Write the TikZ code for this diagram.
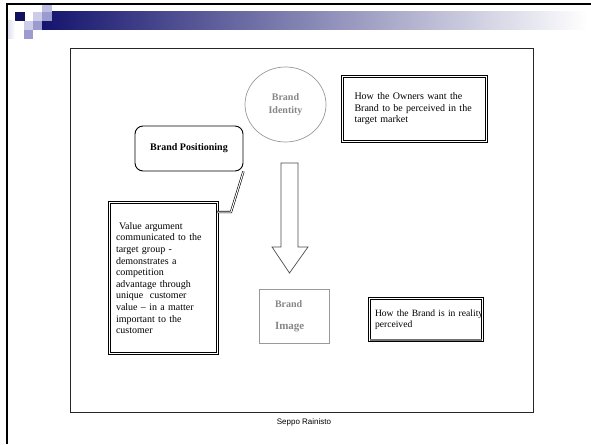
\documentclass[tikz,border=0pt]{standalone}
\usepackage{fontspec}
\setmainfont{Liberation Serif}
\newfontfamily\footfont{Liberation Sans}
\usetikzlibrary{positioning,shapes.geometric}
\definecolor{navy}{RGB}{20,20,110}
\definecolor{lilac}{RGB}{204,204,232}
\definecolor{violet}{RGB}{155,155,208}
\definecolor{greytext}{RGB}{135,135,135}
\begin{document}
\begin{tikzpicture}[x=1pt,y=-1pt,
                font=\fontsize{10}{11.6}\selectfont,
                tbox/.style={inner sep=0pt},
                dline/.style={double, line width=0.9pt, double distance=1.1pt},
                softbox/.style={draw=black!60, line width=0.8pt, inner sep=0pt},
                callout/.style={double, line width=0.6pt, double distance=1pt},
                flowarrow/.style={draw=black!70, line width=0.7pt, fill=white}]
                \useasboundingbox (0,0) rectangle (591,444);
                \fill[white] (0,0) rectangle (591,444);
                \shade[left color=navy, right color=white] (42,12) rectangle (588,30);
                \fill[white] (42,12) rectangle (52,21);
                \fill[navy!85!black] (15,12) rectangle (25,21);
                \fill[lilac] (33,12) rectangle (42,21);
                \fill[violet] (42,12) rectangle (52,21);
                \fill[lilac!70!violet] (42,5) rectangle (52,12);
                \fill[lilac] (24,21) rectangle (33,30);
                \fill[violet] (33,21) rectangle (42,30);
                \fill[violet] (24,30) rectangle (33,39);
                \shade[left color=lilac!60, right color=white] (8,21) rectangle (15,39);
                \draw[line width=2pt] (7,444) -- (7,4) -- (591,4);
                \draw[black!85, line width=0.8pt] (70,48) rectangle (533,412);
                \node (BI) [ellipse, draw=black!40, line width=0.7pt, minimum width=81pt, minimum height=75pt,
                    align=center, text=greytext, font=\fontsize{10}{13}\selectfont\bfseries] at (285.5,104.5) {Brand\\Identity};
                \node (OW) [tbox, minimum width=143pt, minimum height=64pt, text width=120pt, align=left] at (414.5,109)
                    {How the Owners want the\\Brand to be perceived in the\\target market\\[3pt]};
                \node (BP) [draw, rounded corners=8pt, line width=0.9pt, minimum width=108pt, minimum height=45pt,
                    font=\fontsize{10}{12}\selectfont\bfseries] at (189,148.5) {Brand Positioning\\[6pt]};
                \node (VA) [tbox, minimum width=107pt, minimum height=150pt, text width=95pt, align=left] at (163.5,278)
                    {\hspace*{3pt}Value argument\\communicated to the\\target group -\\demonstrates a\\competition\\advantage through\\unique\ \ customer\\value -- in a matter\\important to the\\customer\\[5pt]};
                \node (IM) [softbox, draw=black!40, minimum width=70pt, minimum height=54pt, text width=60pt, align=left,
                    text=greytext, font=\bfseries] at (294,316)
                    {\hspace*{11pt}\fontsize{10}{12}\selectfont Brand\\[10pt]\hspace*{11pt}\fontsize{11}{12}\selectfont Image};
                \node (RE) [tbox, minimum width=112pt, minimum height=41pt, text width=102pt, align=left,
                    font=\fontsize{9.6}{11.2}\selectfont] at (426,319.5)
                    {\makebox[102pt][l]{How the Brand is in reality}\\perceived\\[2pt]};
                \draw[dline] (OW.north west) rectangle (OW.south east);
                \draw[dline] (VA.north west) rectangle (VA.south east);
                \draw[dline] (RE.north west) rectangle (RE.south east);
                \draw[black!55, line width=1.6pt] (RE.south west) -- (RE.south east);
                \coordinate (kink) at (231,212);
                \draw[callout] (BP.south east) -- (kink) -- (VA.east |- kink);
                \coordinate (tip) at (289.5,273);
                \draw[flowarrow] (tip) -- ++(18.5,-26) -- ++(-10,0) -- ++(0,-84) -- ++(-17,0) -- ++(0,84) -- ++(-9,0) -- cycle;
                \node (SR) at (304,422) {\footfont\fontsize{8}{9}\selectfont Seppo Rainisto};
            \end{tikzpicture}
\end{document}
